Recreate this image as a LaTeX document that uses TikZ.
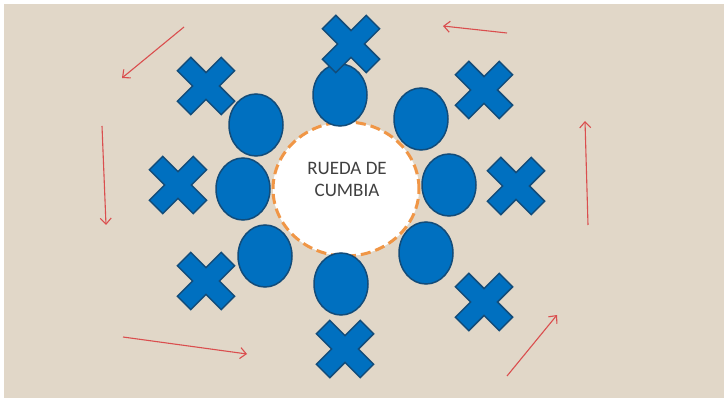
\documentclass[tikz,border=0pt]{standalone}
\usepackage{fontspec}
\setmainfont{Carlito}
\usetikzlibrary{shapes.geometric,arrows.meta}
\definecolor{arena}{RGB}{225,215,200}
\definecolor{azul}{RGB}{0,112,192}
\definecolor{azulborde}{RGB}{18,76,122}
\definecolor{naranja}{RGB}{240,150,70}
\definecolor{rojo}{RGB}{218,78,78}
\tikzstyle{pareja} = [ellipse, minimum width=54pt, minimum height=62pt, inner sep=0pt, draw=azulborde, line width=1.5pt, fill=azul]
\tikzstyle{rueda} = [ellipse, minimum width=146pt, minimum height=134pt, inner sep=0pt, fill=white, draw=naranja, line width=3pt, dash pattern=on 10pt off 5pt]
\tikzstyle{titulo} = [align=center, font=\fontsize{19}{22}\selectfont, text=black!75]
\tikzstyle{giro} = [rojo, line width=1.1pt, -{Straight Barb[length=6pt,width=11pt]}]
\tikzset{cruz/.pic={
  \draw[fill=azul, draw=azulborde, line width=1.5pt, rotate=45]
    (9.5,31) -- (9.5,9.5) -- (31,9.5) -- (31,-9.5) -- (9.5,-9.5) -- (9.5,-31) -- (-9.5,-31) -- (-9.5,-9.5)
    -- (-31,-9.5) -- (-31,9.5) -- (-9.5,9.5) -- (-9.5,31) -- cycle;}}
\begin{document}
\begin{tikzpicture}[x=1pt,y=-1pt]

% fondo
\fill[white] (0,0) rectangle (728,403);
\fill[arena] (4,4) rectangle (724,398);

% centro
\node (centro) [rueda] at (346,189) {};
\node (texto) [titulo] at (347,179) {RUEDA DE\\CUMBIA};

% parejas
\node (p1) [pareja] at (340,95) {};
\node (p2) [pareja] at (421,119) {};
\node (p3) [pareja] at (449,185) {};
\node (p4) [pareja] at (426,253) {};
\node (p5) [pareja] at (341,284) {};
\node (p6) [pareja] at (265,256) {};
\node (p7) [pareja] at (243,189) {};
\node (p8) [pareja] at (256,125) {};

% cruces
\pic at (351,44) {cruz};
\pic at (484,90) {cruz};
\pic at (516,186) {cruz};
\pic at (484,302) {cruz};
\pic at (345,349) {cruz};
\pic at (206,281) {cruz};
\pic at (178,185) {cruz};
\pic at (206,86) {cruz};

% giro
\draw [giro] (507,33) -- (443,26);
\draw [giro] (184,27) -- (122,78);
\draw [giro] (102,126) -- (106,225);
\draw [giro] (123,337) -- (247,354);
\draw [giro] (507,376) -- (557,315);
\draw [giro] (588,225) -- (585,121);
\end{tikzpicture}
\end{document}
